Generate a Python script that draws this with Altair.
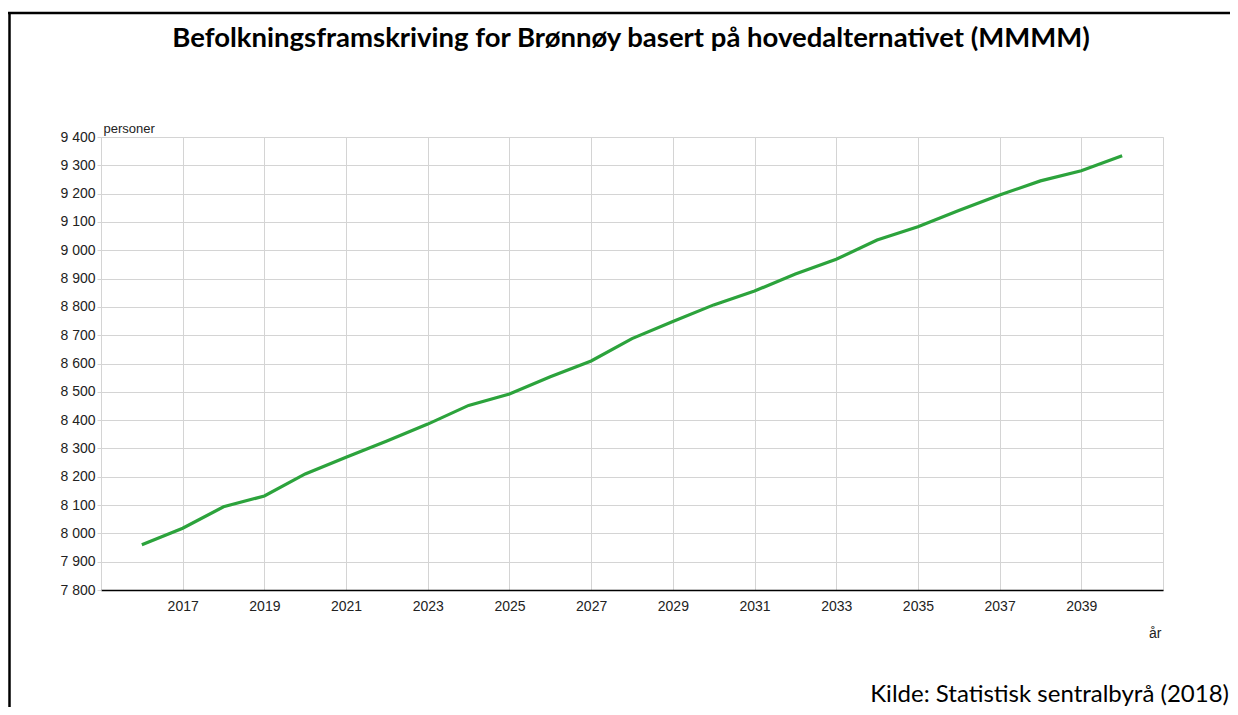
import altair as alt
import pandas as pd

years = list(range(2016, 2041))
population = [7960, 8018, 8094, 8132, 8210, 8269, 8326, 8386, 8452, 8492,
              8553, 8609, 8688, 8748, 8807, 8856, 8916, 8968, 9036, 9083,
              9140, 9195, 9245, 9281, 9334]
x_ticks = list(range(2015, 2042, 2))
y_ticks = list(range(7800, 9401, 100))

title_text = "Befolkningsframskriving for Brønnøy basert på hovedalternativet (MMMM)"
source_text = "Kilde: Statistisk sentralbyrå (2018)"

df = pd.DataFrame({"year": years, "pop": population})

W, H = 1062, 453
PAD_L, PAD_T = 93, 129
PAD_R = 1222 - PAD_L - W
PAD_B = 699 - PAD_T - H

line = alt.Chart(df).mark_line(color="#2ca33c", strokeWidth=3.2).encode(
    x=alt.X("year:Q",
            scale=alt.Scale(domain=[2015, 2041], nice=False, zero=False),
            axis=alt.Axis(values=x_ticks,
                          labelExpr="datum.value == 2015 || datum.value == 2041 ? '' : datum.value",
                          format="d", grid=True, gridColor="#d4d4d4", gridWidth=1,
                          ticks=False, domain=True, domainColor="#000000", domainWidth=1.6,
                          labelPadding=9, labelFont="Liberation Sans", labelFontSize=14,
                          labelColor="#222222",
                          title="år", titleFont="Liberation Sans", titleFontSize=14,
                          titleFontWeight="normal", titleColor="#222222",
                          titleAnchor="end", titleAlign="right", titleX=W - 2, titleY=47,
                          titleBaseline="alphabetic")),
    y=alt.Y("pop:Q",
            scale=alt.Scale(domain=[7800, 9400], nice=False, zero=False),
            axis=alt.Axis(values=y_ticks,
                          labelExpr="replace(format(datum.value, ','), ',', ' ')",
                          grid=True, gridColor="#d4d4d4", gridWidth=1,
                          ticks=True, tickSize=4, tickColor="#d4d4d4",
                          domain=False, labelPadding=2,
                          labelFont="Liberation Sans", labelFontSize=14,
                          labelColor="#222222",
                          title="personer", titleFont="Liberation Sans", titleFontSize=13,
                          titleFontWeight="normal", titleColor="#222222",
                          titleAngle=0, titleAlign="left", titleBaseline="alphabetic",
                          titleX=2, titleY=-5)),
)

frame_left = alt.Chart(alt.Data(values=[{"k": 1}])).mark_rule(
    color="#000000", strokeWidth=2.5).encode(
    x=alt.value(-PAD_L + 1.5), y=alt.value(-PAD_T + 4), y2=alt.value(H + PAD_B + 5))
frame_top = alt.Chart(alt.Data(values=[{"k": 1}])).mark_rule(
    color="#000000", strokeWidth=2.5).encode(
    x=alt.value(-PAD_L), x2=alt.value(W + PAD_R + 5), y=alt.value(-PAD_T + 5))

source = alt.Chart(alt.Data(values=[{"t": source_text}])).mark_text(
    font="Lato", fontSize=24, color="#000000", align="right", baseline="alphabetic").encode(
    text="t:N", x=alt.value(W + 66), y=alt.value(H + 112))

title = alt.Chart(alt.Data(values=[{"t": title_text}])).mark_text(
    font="Lato", fontSize=27.5, fontWeight="bold", color="#000000",
    align="center", baseline="alphabetic").encode(
    text="t:N", x=alt.value(W / 2 - 1), y=alt.value(-90))

chart = alt.layer(line, frame_left, frame_top, source, title).properties(
    width=W, height=H,
    autosize=alt.AutoSizeParams(type="none"),
    padding={"left": PAD_L, "top": PAD_T, "right": PAD_R, "bottom": PAD_B},
).configure_view(stroke=None).configure(background="#ffffff")

chart.save("out.html", embed_options={"renderer": "svg", "actions": False})
